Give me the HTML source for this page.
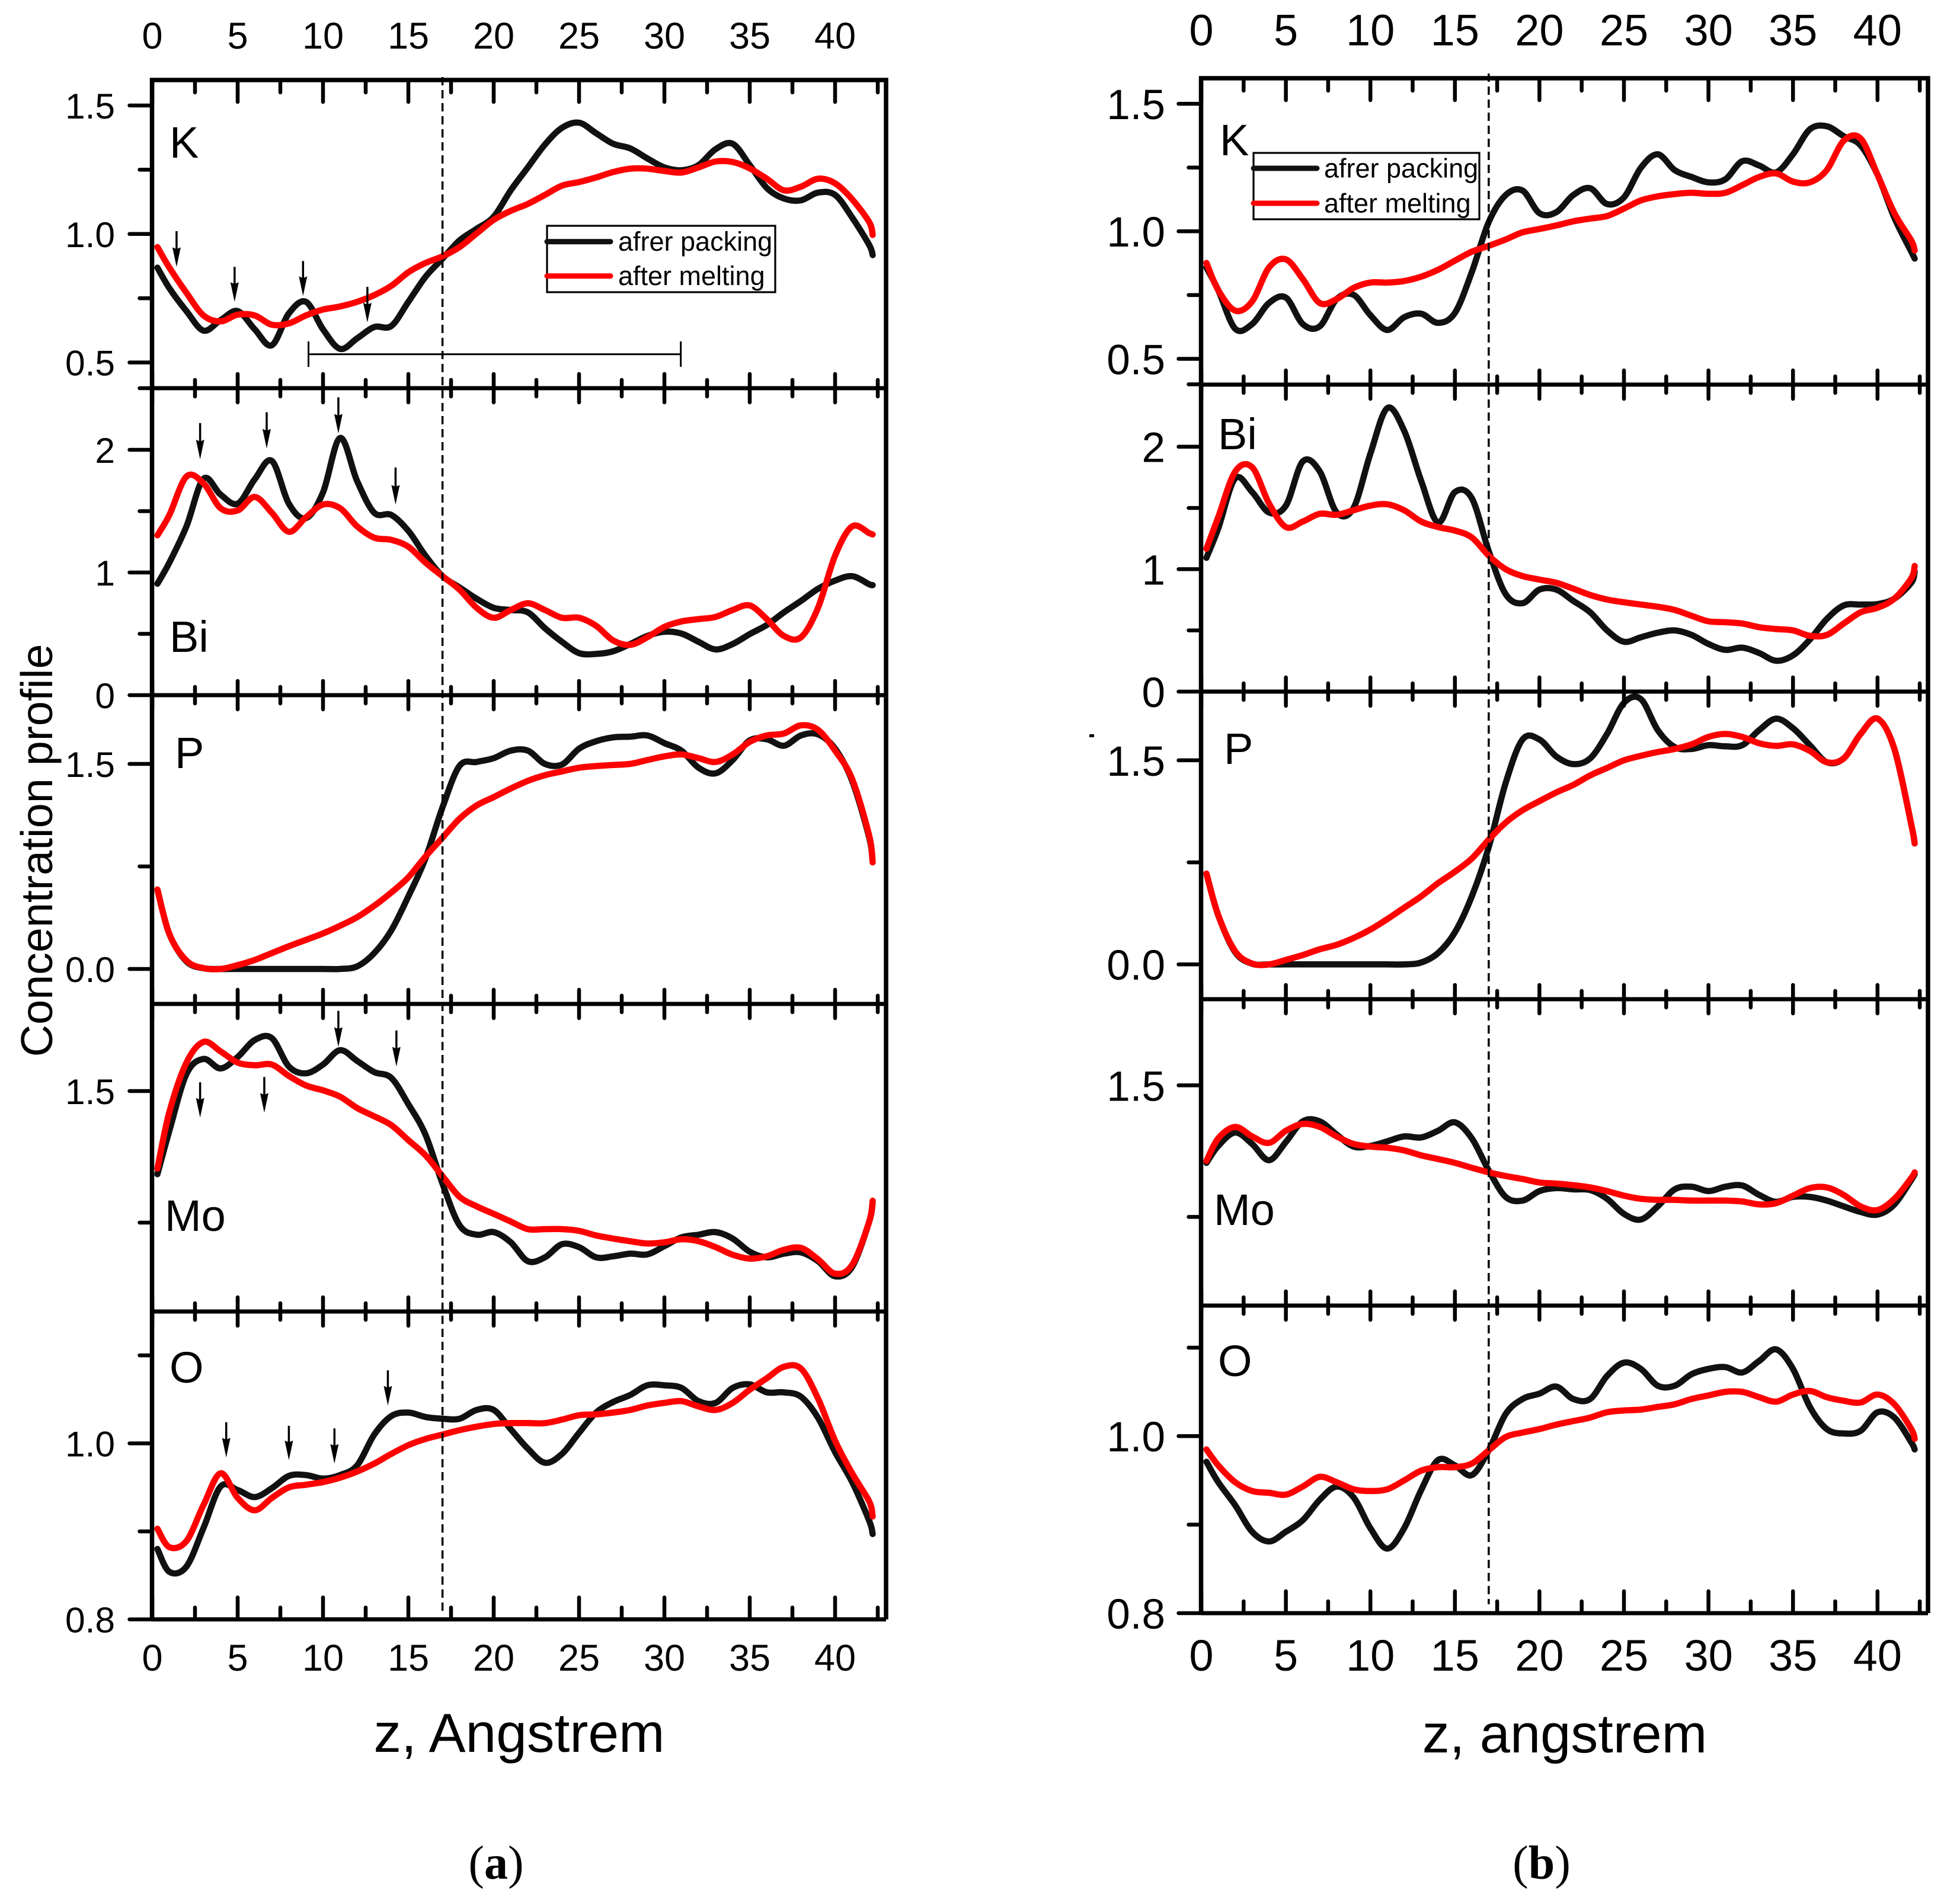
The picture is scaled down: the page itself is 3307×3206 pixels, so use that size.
<!DOCTYPE html>
<html lang="en">
<head>
<meta charset="utf-8">
<title>Concentration profiles</title>
<style>
html,body{margin:0;padding:0;background:#fff;}
svg{display:block;font-family:"Liberation Sans",sans-serif;}
</style>
</head>
<body>
<svg id="chart" xmlns="http://www.w3.org/2000/svg" width="3307" height="3206" viewBox="0 0 3307 3206">
  <rect x="0" y="0" width="3307" height="3206" fill="#fff"/>
  <g id="panel-a"></g>
  <g id="panel-b"></g>
  <text transform="translate(88,1435) rotate(-90)" text-anchor="middle" font-size="75.5" fill="#000">Concentration profile</text>
  <text x="876" y="2956" text-anchor="middle" font-size="93" fill="#000">z, Angstrem</text>
  <text x="2640" y="2957" text-anchor="middle" font-size="92" fill="#000">z, angstrem</text>
  <text x="837" y="3187" dy="-17" text-anchor="middle" font-size="80" fill="#000" style="font-family:'Liberation Serif',serif">(<tspan font-weight="bold">a</tspan>)</text>
  <text x="2601" y="3187" dy="-17" text-anchor="middle" font-size="80" fill="#000" style="font-family:'Liberation Serif',serif">(<tspan font-weight="bold">b</tspan>)</text>
  <rect x="1838" y="1239" width="8" height="5" fill="#000"/>
</svg>
<script>
// z positions (angstrom) shared by every series
const zGrid = [0.3,1,2,3,4,5,6,7,8,9,10,11,12,13,14,15,16,17,18,19,20,21,22,23,24,25,26,27,28,29,30,31,32,33,34,35,36,37,38,39,40,41,42,42.2];

// Chart (a) series
const kPackingA = [0.869,0.789,0.700,0.624,0.665,0.700,0.629,0.567,0.691,0.736,0.629,0.553,0.594,0.638,0.642,0.736,0.833,0.904,0.975,1.020,1.067,1.170,1.259,1.348,1.413,1.433,1.392,1.351,1.333,1.294,1.259,1.248,1.268,1.330,1.351,1.268,1.179,1.138,1.131,1.161,1.152,1.064,0.957,0.918];
const kMeltingA = [0.949,0.869,0.771,0.683,0.660,0.686,0.683,0.647,0.652,0.683,0.706,0.718,0.736,0.762,0.798,0.851,0.887,0.913,0.949,1.002,1.055,1.090,1.117,1.152,1.188,1.202,1.220,1.241,1.254,1.254,1.245,1.239,1.259,1.282,1.280,1.255,1.215,1.170,1.184,1.215,1.197,1.135,1.046,0.996];
const biPackingA = [0.908,1.081,1.376,1.764,1.635,1.561,1.760,1.910,1.561,1.443,1.653,2.096,1.745,1.487,1.469,1.339,1.137,0.970,0.878,0.786,0.712,0.694,0.675,0.546,0.435,0.343,0.336,0.358,0.417,0.483,0.517,0.502,0.435,0.373,0.417,0.498,0.572,0.675,0.768,0.867,0.934,0.970,0.904,0.897];
const biMeltingA = [1.303,1.469,1.782,1.727,1.524,1.506,1.616,1.487,1.332,1.450,1.554,1.524,1.376,1.284,1.266,1.210,1.081,0.970,0.860,0.712,0.631,0.694,0.749,0.694,0.631,0.631,0.565,0.446,0.410,0.472,0.557,0.601,0.620,0.638,0.694,0.731,0.620,0.483,0.472,0.712,1.137,1.376,1.321,1.310];
const pPackingA = [0.581,0.255,0.055,0.005,0,0,0,0,0,0,0,0,0.019,0.116,0.282,0.531,0.808,1.182,1.486,1.514,1.542,1.597,1.597,1.500,1.495,1.611,1.666,1.694,1.699,1.708,1.652,1.597,1.472,1.431,1.528,1.672,1.680,1.633,1.708,1.716,1.611,1.376,0.960,0.780];
const pMeltingA = [0.581,0.255,0.061,0.006,0,0.028,0.066,0.116,0.166,0.213,0.260,0.316,0.379,0.462,0.559,0.670,0.822,0.960,1.099,1.196,1.257,1.320,1.376,1.417,1.445,1.472,1.484,1.492,1.500,1.528,1.555,1.569,1.542,1.514,1.569,1.661,1.708,1.722,1.782,1.749,1.597,1.389,0.974,0.780];
const moPackingA = [1.026,1.274,1.597,1.683,1.629,1.694,1.791,1.802,1.640,1.601,1.651,1.733,1.672,1.608,1.575,1.425,1.252,0.972,0.735,0.681,0.696,0.638,0.530,0.552,0.627,0.610,0.552,0.558,0.573,0.569,0.616,0.666,0.681,0.696,0.659,0.584,0.552,0.573,0.580,0.530,0.444,0.498,0.756,0.864];
const moMeltingA = [1.058,1.381,1.662,1.780,1.726,1.662,1.647,1.651,1.586,1.532,1.504,1.468,1.403,1.356,1.306,1.220,1.134,1.015,0.897,0.843,0.800,0.756,0.713,0.713,0.713,0.703,0.677,0.659,0.644,0.631,0.638,0.655,0.644,0.610,0.567,0.545,0.558,0.595,0.606,0.541,0.459,0.509,0.756,0.875];
const oPackingA = [0.880,0.854,0.860,0.904,0.951,0.947,0.939,0.949,0.963,0.964,0.960,0.964,0.975,1.010,1.031,1.035,1.030,1.028,1.028,1.038,1.038,1.016,0.994,0.978,0.988,1.012,1.035,1.047,1.055,1.066,1.066,1.063,1.048,1.046,1.063,1.067,1.058,1.058,1.053,1.029,0.990,0.956,0.912,0.897];
const oMeltingA = [0.903,0.882,0.889,0.930,0.966,0.938,0.924,0.938,0.950,0.953,0.956,0.961,0.968,0.977,0.988,0.998,1.005,1.010,1.015,1.019,1.022,1.023,1.023,1.023,1.027,1.032,1.033,1.035,1.038,1.043,1.046,1.048,1.042,1.038,1.046,1.061,1.074,1.087,1.085,1.051,1.003,0.966,0.934,0.917];

// Chart (b) series
const kPackingB = [0.858,0.769,0.618,0.636,0.719,0.740,0.636,0.627,0.734,0.751,0.671,0.613,0.663,0.677,0.641,0.680,0.840,1.036,1.142,1.160,1.071,1.075,1.142,1.169,1.107,1.133,1.249,1.302,1.240,1.213,1.192,1.204,1.275,1.258,1.231,1.302,1.400,1.412,1.373,1.337,1.222,1.053,0.920,0.893];
const kMeltingB = [0.876,0.769,0.689,0.725,0.858,0.890,0.813,0.719,0.734,0.778,0.799,0.799,0.805,0.822,0.849,0.885,0.920,0.943,0.968,0.996,1.009,1.023,1.039,1.050,1.060,1.089,1.121,1.137,1.146,1.151,1.147,1.151,1.181,1.213,1.227,1.195,1.192,1.240,1.355,1.364,1.222,1.071,0.964,0.925];
const biPackingB = [1.093,1.333,1.741,1.630,1.463,1.519,1.880,1.800,1.463,1.500,1.944,2.315,2.130,1.722,1.381,1.630,1.580,1.148,0.796,0.722,0.833,0.833,0.741,0.648,0.500,0.407,0.444,0.481,0.500,0.463,0.389,0.341,0.359,0.315,0.252,0.296,0.426,0.593,0.704,0.711,0.715,0.759,0.889,0.981];
const biMeltingB = [1.167,1.426,1.796,1.833,1.537,1.344,1.389,1.452,1.444,1.481,1.519,1.530,1.481,1.389,1.344,1.315,1.259,1.111,1.000,0.944,0.915,0.889,0.841,0.789,0.752,0.730,0.711,0.693,0.667,0.619,0.574,0.567,0.556,0.526,0.511,0.500,0.456,0.463,0.556,0.648,0.685,0.759,0.926,1.026];
const pPackingB = [0.667,0.361,0.090,0.005,0,0,0,0,0,0,0,0,0,0.014,0.083,0.236,0.500,0.861,1.333,1.653,1.653,1.528,1.472,1.514,1.694,1.922,1.950,1.722,1.597,1.583,1.611,1.603,1.611,1.722,1.806,1.736,1.611,1.486,1.514,1.694,1.806,1.583,1.028,0.889];
const pMeltingB = [0.667,0.361,0.097,0.006,0,0.033,0.069,0.111,0.144,0.194,0.256,0.333,0.417,0.500,0.597,0.681,0.778,0.917,1.042,1.133,1.200,1.264,1.319,1.389,1.444,1.500,1.533,1.561,1.583,1.617,1.672,1.694,1.672,1.625,1.606,1.617,1.569,1.486,1.514,1.694,1.806,1.583,1.028,0.889];
const moPackingB = [1.058,1.155,1.231,1.166,1.073,1.177,1.295,1.295,1.220,1.151,1.155,1.181,1.209,1.203,1.241,1.289,1.198,1.015,0.864,0.843,0.897,0.914,0.907,0.903,0.853,0.767,0.735,0.810,0.907,0.922,0.897,0.922,0.929,0.875,0.836,0.864,0.864,0.843,0.810,0.778,0.763,0.821,0.961,0.994];
const moMeltingB = [1.069,1.198,1.263,1.209,1.172,1.241,1.280,1.263,1.209,1.166,1.151,1.144,1.129,1.101,1.080,1.058,1.030,1.004,0.983,0.966,0.946,0.940,0.931,0.918,0.897,0.871,0.853,0.847,0.847,0.843,0.843,0.843,0.838,0.821,0.828,0.871,0.914,0.918,0.875,0.810,0.789,0.853,0.972,1.004];
const oPackingB = [0.971,0.948,0.922,0.892,0.881,0.892,0.905,0.928,0.943,0.931,0.896,0.873,0.896,0.939,0.973,0.967,0.956,0.984,1.025,1.042,1.048,1.056,1.042,1.042,1.068,1.083,1.076,1.057,1.057,1.070,1.076,1.078,1.072,1.085,1.098,1.076,1.033,1.008,1.003,1.006,1.027,1.021,0.993,0.985];
const oMeltingB = [0.985,0.967,0.948,0.938,0.936,0.934,0.943,0.954,0.948,0.940,0.938,0.940,0.950,0.961,0.965,0.965,0.969,0.984,0.999,1.004,1.008,1.013,1.017,1.021,1.027,1.029,1.030,1.033,1.036,1.042,1.046,1.050,1.050,1.044,1.039,1.047,1.051,1.044,1.040,1.038,1.047,1.036,1.008,0.997];

// Axis ticks
const xMajorTicks = [0,5,10,15,20,25,30,35,40];
const xMinorTicks = [2.5,7.5,12.5,17.5,22.5,27.5,32.5,37.5,42.5];
const xTickLabels = ['0','5','10','15','20','25','30','35','40'];
const kMajorTicks = [0.5,1.0,1.5];
const kTickLabels = ['0.5','1.0','1.5'];
const kMinorTicks = [0.4,0.75,1.25];
const biMajorTicks = [0,1,2];
const biTickLabels = ['0','1','2'];
const biMinorTicks = [0.5,1.5];
const pMajorTicks = [0,1.5];
const pTickLabels = ['0.0','1.5'];
const pMinorTicks = [0.75];
const moMajorTicks = [1.5];
const moTickLabels = ['1.5'];
const moMinorTicks = [0.75];
const oMajorTicks = [0.8,1.0];
const oTickLabels = ['0.8','1.0'];
const oMinorTicks = [0.9,1.1];

// Annotation arrows in chart (a): z position, value at tail, value at tip
const kArrowZ = [1.42,4.82,8.83,12.6];
const kArrowTail = [1.011,0.872,0.895,0.794];
const kArrowTip = [0.872,0.736,0.759,0.656];
const biArrowZ = [2.8,6.7,10.9,14.25];
const biArrowTail = [2.218,2.306,2.428,1.856];
const biArrowTip = [1.923,2.011,2.133,1.554];
const moArrowZ = [2.8,6.56,10.9,14.3];
const moArrowTail = [1.55,1.58,1.957,1.845];
const moArrowTip = [1.349,1.377,1.752,1.64];
const oArrowZ = [4.33,8.0,10.67,13.8];
const oArrowTail = [1.024,1.020,1.017,1.083];
const oArrowTip = [0.984,0.981,0.977,1.043];

// Range bracket in chart (a), K panel
const bracketZ = [9.15,30.96];
const bracketValue = [0.532];
const bracketCapValues = [0.483,0.582];

const interfaceZ = [17];
const seriesNames = ['afrer packing','after melting'];

const SVGNS = 'http://www.w3.org/2000/svg';
function make(parent, tag, attrs) {
  const el = document.createElementNS(SVGNS, tag);
  for (const k in attrs) el.setAttribute(k, attrs[k]);
  parent.appendChild(el);
  return el;
}

function smoothPath(pts) {
  let d = 'M' + pts[0][0].toFixed(1) + ' ' + pts[0][1].toFixed(1);
  for (let i = 0; i < pts.length - 1; i++) {
    const p0 = pts[Math.max(i - 1, 0)], p1 = pts[i], p2 = pts[i + 1], p3 = pts[Math.min(i + 2, pts.length - 1)];
    const c1x = p1[0] + (p2[0] - p0[0]) / 6, c1y = p1[1] + (p2[1] - p0[1]) / 6;
    const c2x = p2[0] - (p3[0] - p1[0]) / 6, c2y = p2[1] - (p3[1] - p1[1]) / 6;
    d += 'C' + c1x.toFixed(1) + ' ' + c1y.toFixed(1) + ' ' + c2x.toFixed(1) + ' ' + c2y.toFixed(1) + ' ' + p2[0].toFixed(1) + ' ' + p2[1].toFixed(1);
  }
  return d;
}

function drawChart(root, cfg) {
  const xScale = z => cfg.x0 + z * cfg.pxPerZ;
  const yFor = p => v => p.refPx + (p.refVal - v) * p.pxPerUnit;
  const TW = 6.5;

  // series
  cfg.panels.forEach(p => {
    const y = yFor(p);
    [[p.packing, '#111111', 'packing'], [p.melting, '#ff0000', 'melting']].forEach(s => {
      const pts = s[0].map((v, i) => [xScale(zGrid[i]), y(v)]);
      const line = make(root, 'path', {d: smoothPath(pts), fill: 'none', stroke: s[1], 'stroke-width': 10.5, 'stroke-linejoin': 'round', 'stroke-linecap': 'round'});
      
      
    });
  });

  // horizontal axes with x ticks
  cfg.panels.forEach((p, i) => {
    const sep = make(root, 'line', {x1: cfg.axisLeft, x2: cfg.right, y1: p.bottom, y2: p.bottom, stroke: '#000', 'stroke-width': 7});
    
    
    const last = i === cfg.panels.length - 1;
    const ticks = [[xMajorTicks, last ? 37 : 24, last ? 0 : 24], [xMinorTicks, last ? 20 : 14, last ? 0 : 14]];
    ticks.forEach(t => t[0].forEach(z => {
      const tick = make(root, 'line', {x1: xScale(z), x2: xScale(z), y1: p.bottom - t[1], y2: p.bottom + t[2], stroke: '#000', 'stroke-width': TW, 'stroke-linecap': 'round'});
      
      
    }));
  });

  // frame
  const first = cfg.panels[0], lastP = cfg.panels[cfg.panels.length - 1];
  const frame = make(root, 'path', {d: 'M' + cfg.axisLeft + ' ' + lastP.bottom + 'V' + first.top + 'H' + cfg.right + 'V' + lastP.bottom, fill: 'none', stroke: '#000', 'stroke-width': 7.5, 'stroke-linejoin': 'miter'});
  
  
  [[xMajorTicks, 37], [xMinorTicks, 21]].forEach(t => t[0].forEach(z => {
    const tick = make(root, 'line', {x1: xScale(z), x2: xScale(z), y1: first.top, y2: first.top + t[1], stroke: '#000', 'stroke-width': TW, 'stroke-linecap': 'round'});
    
    
  }));

  // x tick labels
  [cfg.topLabelY, cfg.bottomLabelY].forEach(ly => {
    xMajorTicks.forEach((z, i) => {
      const lab = make(root, 'text', {x: xScale(z), y: ly, 'text-anchor': 'middle', 'font-size': cfg.tickFont, fill: '#000'});
      lab.textContent = xTickLabels[i];
      
      
    });
  });

  // y ticks, labels, letters
  cfg.panels.forEach(p => {
    const y = yFor(p);
    p.major.forEach((v, i) => {
      const tick = make(root, 'line', {x1: cfg.axisLeft - 38, x2: cfg.axisLeft, y1: y(v), y2: y(v), stroke: '#000', 'stroke-width': TW, 'stroke-linecap': 'round'});
      
      
      const lab = make(root, 'text', {x: cfg.labelRight, y: y(v) + cfg.tickFont * 0.35, 'text-anchor': 'end', 'font-size': cfg.tickFont * 0.96, fill: '#000'});
      lab.textContent = p.labels[i];
      
      
    });
    p.minor.forEach(v => {
      const tick = make(root, 'line', {x1: cfg.axisLeft - 21, x2: cfg.axisLeft, y1: y(v), y2: y(v), stroke: '#000', 'stroke-width': TW, 'stroke-linecap': 'round'});
      
      
    });
    const letter = make(root, 'text', {x: p.letterX, y: p.letterY, 'font-size': 74, fill: '#000'});
    letter.textContent = p.key;
    
    
  });

  // dashed interface line
  const dash = make(root, 'line', {x1: xScale(interfaceZ[0]) + cfg.dashNudge, x2: xScale(interfaceZ[0]) + cfg.dashNudge, y1: cfg.dashTop, y2: cfg.dashBottom, stroke: '#000', 'stroke-width': 3.5, 'stroke-dasharray': '14 8'});
  
  

  // legend
  const L = cfg.legend;
  const box = make(root, 'rect', {x: L.x, y: L.y, width: L.w, height: L.h, fill: 'none', stroke: '#000', 'stroke-width': 3.2});
  
  
  [['#111111', L.y1, 'packing'], ['#ff0000', L.y2, 'melting']].forEach((s, i) => {
    const sw = make(root, 'line', {x1: L.x, x2: L.x + 107, y1: s[1], y2: s[1], stroke: s[0], 'stroke-width': 9, 'stroke-linecap': 'round'});
    
    
    const tx = make(root, 'text', {x: L.tx, y: s[1] + 15.5, 'font-size': 45, fill: '#000'});
    tx.textContent = seriesNames[i];
    
    
  });

  // annotations
  cfg.panels.forEach(p => {
    if (!p.arrowZ) return;
    const y = yFor(p);
    p.arrowZ.forEach((z, i) => {
      const ax = xScale(z), tip = y(p.arrowTip[i]), tail = y(p.arrowTail[i]);
      const stem = make(root, 'line', {x1: ax, x2: ax, y1: tail, y2: tip - 26, stroke: '#000', 'stroke-width': 3.5});
      
      
      const head = make(root, 'polygon', {points: (ax - 7) + ',' + (tip - 33) + ' ' + ax + ',' + (tip - 30) + ' ' + (ax + 7) + ',' + (tip - 33) + ' ' + ax + ',' + tip, fill: '#000'});
      
      
    });
  });
  if (cfg.bracket) {
    const y = yFor(cfg.panels[0]);
    const bar = make(root, 'line', {x1: xScale(bracketZ[0]), x2: xScale(bracketZ[1]), y1: y(bracketValue[0]), y2: y(bracketValue[0]), stroke: '#000', 'stroke-width': 3});
    
    
    bracketZ.forEach(z => {
      const cap = make(root, 'line', {x1: xScale(z), x2: xScale(z), y1: y(bracketCapValues[0]), y2: y(bracketCapValues[1]), stroke: '#000', 'stroke-width': 3});
      
      
    });
  }
}

drawChart(document.getElementById('panel-a'), {
  x0: 257, pxPerZ: 28.8, axisLeft: 256.5, right: 1495, tickFont: 63, topLabelY: 82, bottomLabelY: 2819, labelRight: 194,
  dashTop: 130, dashBottom: 2718, dashNudge: 0, bracket: true,
  legend: {x: 923, y: 381, w: 385, h: 112, y1: 407.7, y2: 465.7, tx: 1043},
  panels: [
    {key: 'K', top: 135, bottom: 655, refVal: 1.0, refPx: 394.8, pxPerUnit: 433.7, major: kMajorTicks, labels: kTickLabels, minor: kMinorTicks, letterX: 286, letterY: 266, packing: kPackingA, melting: kMeltingA, arrowZ: kArrowZ, arrowTail: kArrowTail, arrowTip: kArrowTip},
    {key: 'Bi', top: 655, bottom: 1173, refVal: 0, refPx: 1173, pxPerUnit: 207, major: biMajorTicks, labels: biTickLabels, minor: biMinorTicks, letterX: 286, letterY: 1100, packing: biPackingA, melting: biMeltingA, arrowZ: biArrowZ, arrowTail: biArrowTail, arrowTip: biArrowTip},
    {key: 'P', top: 1173, bottom: 1694, refVal: 0, refPx: 1635, pxPerUnit: 230.7, major: pMajorTicks, labels: pTickLabels, minor: pMinorTicks, letterX: 295, letterY: 1296, packing: pPackingA, melting: pMeltingA},
    {key: 'Mo', top: 1694, bottom: 2213, refVal: 1.5, refPx: 1841, pxPerUnit: 296, major: moMajorTicks, labels: moTickLabels, minor: moMinorTicks, letterX: 278, letterY: 2077, packing: moPackingA, melting: moMeltingA, arrowZ: moArrowZ, arrowTail: moArrowTail, arrowTip: moArrowTip},
    {key: 'O', top: 2213, bottom: 2732.5, refVal: 1.0, refPx: 2435.5, pxPerUnit: 1485, major: oMajorTicks, labels: oTickLabels, minor: oMinorTicks, letterX: 286, letterY: 2333, packing: oPackingA, melting: oMeltingA, arrowZ: oArrowZ, arrowTail: oArrowTail, arrowTip: oArrowTip}
  ]
});

drawChart(document.getElementById('panel-b'), {
  x0: 2027, pxPerZ: 28.52, axisLeft: 2026.5, right: 3253, tickFont: 74, topLabelY: 76.5, bottomLabelY: 2819, labelRight: 1966,
  dashTop: 124, dashBottom: 2707, dashNudge: 0, bracket: false,
  legend: {x: 2115, y: 258, w: 381, h: 112, y1: 284, y2: 343, tx: 2234},
  panels: [
    {key: 'K', top: 132, bottom: 649, refVal: 1.0, refPx: 390.3, pxPerUnit: 430.3, major: kMajorTicks, labels: kTickLabels, minor: kMinorTicks, letterX: 2058, letterY: 262, packing: kPackingB, melting: kMeltingB},
    {key: 'Bi', top: 649, bottom: 1167, refVal: 0, refPx: 1167, pxPerUnit: 206.6, major: biMajorTicks, labels: biTickLabels, minor: biMinorTicks, letterX: 2055, letterY: 758, packing: biPackingB, melting: biMeltingB},
    {key: 'P', top: 1167, bottom: 1686, refVal: 0, refPx: 1627.3, pxPerUnit: 229.6, major: pMajorTicks, labels: pTickLabels, minor: pMinorTicks, letterX: 2065, letterY: 1289, packing: pPackingB, melting: pMeltingB},
    {key: 'Mo', top: 1686, bottom: 2203, refVal: 1.5, refPx: 1831.4, pxPerUnit: 295.9, major: moMajorTicks, labels: moTickLabels, minor: moMinorTicks, letterX: 2048, letterY: 2067, packing: moPackingB, melting: moMeltingB},
    {key: 'O', top: 2203, bottom: 2722, refVal: 1.0, refPx: 2423.3, pxPerUnit: 1493.5, major: oMajorTicks, labels: oTickLabels, minor: oMinorTicks, letterX: 2055, letterY: 2322, packing: oPackingB, melting: oMeltingB}
  ]
});
</script>
</body>
</html>
